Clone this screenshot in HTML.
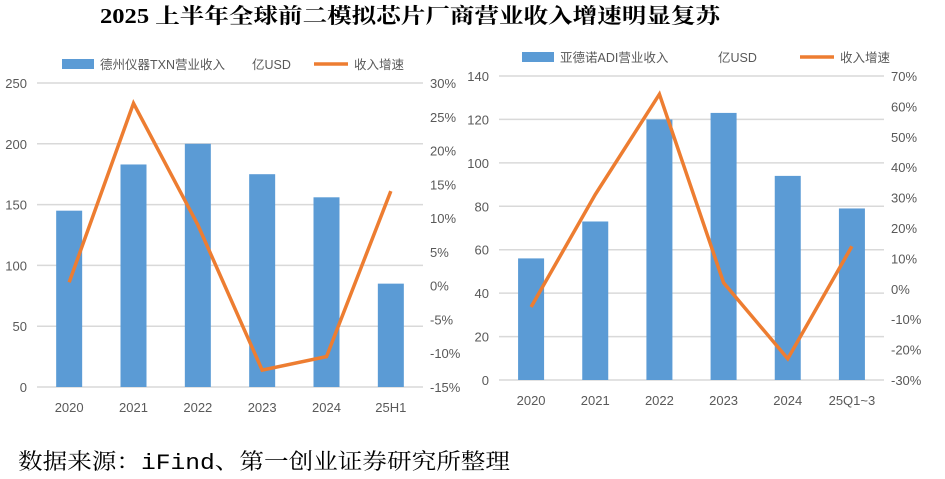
<!DOCTYPE html>
<html><head><meta charset="utf-8"><style>
body{margin:0;background:#fff;width:945px;height:474px;overflow:hidden;font-family:"Liberation Sans","Noto Sans CJK SC",sans-serif}
svg text{font-family:"Liberation Sans","Noto Sans CJK SC",sans-serif}
</style></head><body>
<svg id="s" width="945" height="474">
<text x="100" y="23" font-size="21" font-weight="bold" fill="#000" textLength="620" lengthAdjust="spacingAndGlyphs" style="font-family:'Liberation Serif','Noto Serif CJK SC',serif">2025 上半年全球前二模拟芯片厂商营业收入增速明显复苏</text>
<text x="18" y="469" font-size="22" fill="#000" textLength="492" lengthAdjust="spacingAndGlyphs" style="font-family:'Liberation Mono','Noto Serif CJK SC',serif">数据来源：iFind、第一创业证券研究所整理</text>
</svg>
<script>
const cats1=["2020","2021","2022","2023","2024","25H1"];
const rev1=[145,183,200,175,156,85];
const gr1=[0.5,27,9,-12.5,-10.5,14];
const lt1=[0,50,100,150,200,250];
const rt1=[-15,-10,-5,0,5,10,15,20,25,30];
const cats2=["2020","2021","2022","2023","2024","25Q1~3"];
const rev2=[56,73,120,123,94,79];
const gr2=[-6,31,64,2,-23,14];
const lt2=[0,20,40,60,80,100,120,140];
const rt2=[-30,-20,-10,0,10,20,30,40,50,60,70];
const svg=document.getElementById('s');
const NS='http://www.w3.org/2000/svg';
function mk(t,a,p){const e=document.createElementNS(NS,t);for(const k in a)e.setAttribute(k,a[k]);(p||svg).appendChild(e);return e;}
function chart(o){
 const g=mk('g',{});
 
 
 const yL=v=>o.y0+(o.y1-o.y0)*(v-o.lmin)/(o.lmax-o.lmin);
 const yR=v=>o.y0+(o.y1-o.y0)*(v-o.rmin)/(o.rmax-o.rmin);
 const step=(o.x1-o.x0)/o.cats.length;
 const xc=i=>o.x0+step*(i+0.5);
 o.lt.forEach(v=>{
  const l=mk('line',{x1:o.x0,x2:o.x1,y1:yL(v),y2:yL(v),stroke:'#d9d9d9','stroke-width':1.5},g);
  
  
  const t=mk('text',{x:o.x0-10,y:yL(v)+5,'text-anchor':'end','font-size':13,fill:'#595959'},g);t.textContent=v;
  
  
 });
 o.rt.forEach(v=>{
  const t=mk('text',{x:o.x1+7,y:yR(v)+5,'font-size':13,fill:'#595959'},g);t.textContent=v+'%';
  
  
 });
 o.cats.forEach((c,i)=>{
  const b=mk('rect',{x:xc(i)-13,y:yL(o.rev[i]),width:26,height:yL(o.lmin)-yL(o.rev[i]),fill:'#5b9bd5'},g);
  
  
  const t=mk('text',{x:xc(i),y:o.y0+25,'text-anchor':'middle','font-size':13,fill:'#595959'},g);t.textContent=c;
  
  
 });
 const pl=mk('polyline',{points:o.gr.map((v,i)=>xc(i)+','+yR(v)).join(' '),fill:'none',stroke:'#ed7d31','stroke-width':3.5,'stroke-linejoin':'miter'},g);
 
 
 const lg=mk('g',{},g);
 
 
 mk('rect',{x:o.lgx,y:o.lgy-5,width:32,height:10,fill:'#5b9bd5'},lg);
 let t=mk('text',{x:o.lgx+38,y:o.lgy+5,'font-size':12.5,fill:'#595959'},lg);t.textContent=o.lab1;
 t=mk('text',{x:o.lgx+o.uo,y:o.lgy+5,'font-size':12.5,fill:'#595959'},lg);t.textContent='亿USD';
 mk('line',{x1:o.lgx+o.lo,x2:o.lgx+o.lo+34,y1:o.lgy,y2:o.lgy,stroke:'#ed7d31','stroke-width':3.5},lg);
 t=mk('text',{x:o.lgx+o.lo+40,y:o.lgy+5,'font-size':12.5,fill:'#595959'},lg);t.textContent='收入增速';
}
chart({name:'txn-chart',cats:cats1,rev:rev1,gr:gr1,lt:lt1,rt:rt1,x0:37,x1:423,y0:387,y1:83,lmin:0,lmax:250,rmin:-15,rmax:30,lab1:'德州仪器TXN营业收入',lgx:62,lgy:64,uo:190,lo:252});
chart({name:'adi-chart',cats:cats2,rev:rev2,gr:gr2,lt:lt2,rt:rt2,x0:499,x1:884,y0:380,y1:76,lmin:0,lmax:140,rmin:-30,rmax:70,lab1:'亚德诺ADI营业收入',lgx:522,lgy:57,uo:196,lo:278});
</script>
</body></html>
